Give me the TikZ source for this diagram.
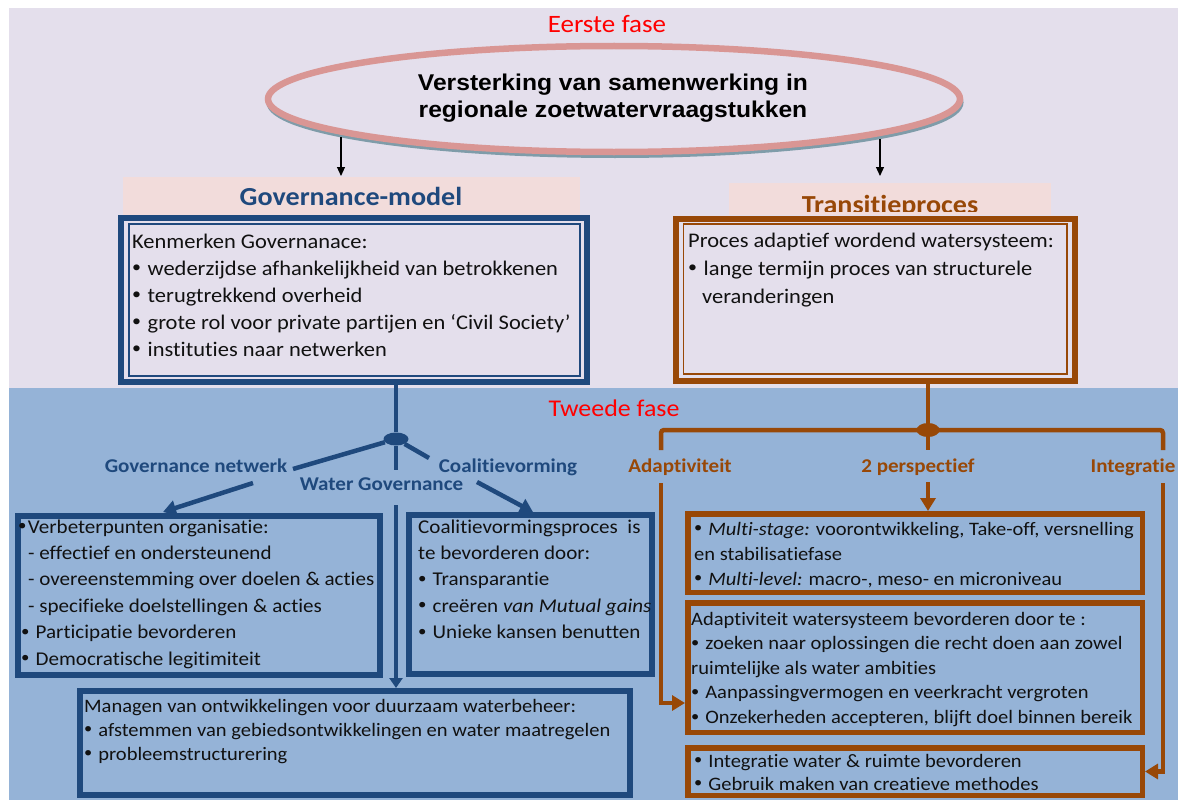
\documentclass[tikz,border=0pt]{standalone}
\usepackage{fontspec}
\setmainfont{Carlito}[FakeStretch=1.08, Ligatures=NoCommon]
\newfontfamily\arialf{Liberation Sans}[FakeStretch=1.08]
\usetikzlibrary{shapes.geometric,arrows.meta}
\definecolor{lav}{HTML}{E4DFEC}
\definecolor{bgblue}{HTML}{95B3D7}
\definecolor{dblue}{HTML}{1F497D}
\definecolor{brn}{HTML}{984807}
\definecolor{pinkfill}{HTML}{F2DCDB}
\definecolor{ellpink}{HTML}{D99694}
\definecolor{shad}{HTML}{7F9CA9}
\definecolor{txtc}{HTML}{111111}
\newcommand\Lx[1]{\hbox{#1}}
\newcommand\bul{\makebox[0.5em][l]{\raisebox{0.12em}{\scalebox{0.8}{•}}}}
\newcommand\bodyfont{\fontsize{20.8}{27}\selectfont}
\newcommand\smallbody{\fontsize{19.5}{25}\selectfont}
\newcommand\smallerbody{\fontsize{19}{25}\selectfont}
\newcommand\labfont{\fontsize{19.5}{22}\selectfont\bfseries}
\begin{document}
\begin{tikzpicture}[x=1pt,y=-1pt,
  bbox/.style={draw=dblue, line width=6pt, inner sep=0pt},
  brbox/.style={draw=brn, line width=5.5pt, inner sep=0pt},
  txt/.style={anchor=base west, inner sep=0pt, text=txtc, font=\bodyfont},
  blab/.style={anchor=base, inner sep=0pt, text=dblue, font=\labfont},
  brlab/.style={anchor=base, inner sep=0pt, text=brn, font=\labfont},
  redlab/.style={anchor=base, inner sep=0pt, text=red, font=\fontsize{25}{28}\selectfont},
  bline/.style={draw=dblue, line width=4.5pt},
  brline/.style={draw=brn, line width=4.5pt},
  btip/.style={-{Triangle[width=15pt,length=13pt]}},
  karrow/.style={draw=black, line width=1.1pt, -{Triangle[width=8pt,length=9pt]}}
]
\useasboundingbox (0,0) rectangle (1178,800);
\fill[white] (0,0) rectangle (1178,800);
\fill[lav] (9,8) rectangle (1178,388);
\fill[bgblue] (9,388) rectangle (1178,800);

% first phase
\node[redlab] (ef) at (607,33) {Eerste fase};
\node[ellipse, draw=shad, line width=5pt, minimum width=692pt, minimum height=106pt, inner sep=0pt] (els) at (615,102.5) {};
\node[ellipse, draw=ellpink, fill=lav, line width=6.5pt, minimum width=692pt, minimum height=106pt, inner sep=0pt] (el) at (614,99) {};
\node[anchor=base, inner sep=0pt, font=\fontsize{22.8}{27}\selectfont\arialf\bfseries] (el1) at (613,90) {Versterking van samenwerking in};
\node[anchor=base, inner sep=0pt, font=\fontsize{22.8}{27}\selectfont\arialf\bfseries] (el2) at (613,117) {regionale zoetwatervraagstukken};

% title labels
\node[fill=pinkfill, minimum width=457pt, minimum height=38pt, inner sep=0pt] (gml) at (351.5,196) {};
\node[anchor=base, inner sep=0pt, text=dblue, font=\fontsize{26}{30}\selectfont\bfseries] (gmt) at (351,205) {Governance-model};
\node[fill=pinkfill, minimum width=322pt, minimum height=32pt, inner sep=0pt] (tpl) at (890,199) {};
\begin{scope}
\clip (729,183) rectangle (1051,211.5);
\node[anchor=base, inner sep=0pt, text=brn, font=\fontsize{26}{30}\selectfont\bfseries] (tpt) at (890,213.5) {Transitieproces};
\end{scope}

% black arrows
\coordinate (ka) at (341,137); \coordinate (kae) at (341,176);
\coordinate (kb) at (880,139); \coordinate (kbe) at (880,176);
\draw[karrow] (ka) -- (kae);
\draw[karrow] (kb) -- (kbe);

% governance box
\node[bbox, fill=lav, minimum width=466pt, minimum height=164pt] (gm) at (354,300) {};
\draw[dblue, line width=1.3pt] (129,224) rectangle (580,376);
\node[txt] (gmx) at (132,248) {\vtop{\Lx{Kenmerken Governanace:}\Lx{\bul\ wederzijdse afhankelijkheid van betrokkenen}\Lx{\bul\ terugtrekkend overheid}\Lx{\bul\ grote rol voor private partijen en ‘Civil Society’}\Lx{\bul\ instituties naar netwerken}}};

% transitie box
\node[draw=brn, line width=6pt, inner sep=0pt, fill=lav, minimum width=399pt, minimum height=162pt] (tp) at (875.5,300) {};
\draw[brn, line width=1.2pt] (683.5,224) rectangle (1067,374);
\node[txt] (tpx) at (688,247) {\vtop{\baselineskip=28pt\Lx{Proces adaptief wordend watersysteem:}\Lx{\bul\ lange termijn proces van structurele}\Lx{\kern14pt veranderingen}}};

% second phase
\node[redlab, font=\fontsize{24}{28}\selectfont] (tf) at (614,416) {Tweede fase};

% lower blue boxes
\node[bbox, minimum width=362pt, minimum height=159pt] (vb) at (199,595.5) {};
\node[txt, font=\smallbody] (vbx) at (18,533) {\vtop{\baselineskip=26.4pt\Lx{\bul Verbeterpunten organisatie:}\Lx{\kern10pt- effectief en ondersteunend}\Lx{\kern10pt- overeenstemming over doelen \& acties}\Lx{\kern10pt- specifieke doelstellingen \& acties}\Lx{\kern3pt\bul\ Participatie bevorderen}\Lx{\kern3pt\bul\ Democratische legitimiteit}}};
\node[bbox, minimum width=243pt, minimum height=159pt] (cv) at (530.5,594.5) {};
\node[txt, font=\smallbody] (cvx) at (418,533) {\vtop{\baselineskip=26.4pt\Lx{Coalitievormingsproces\ \ is}\Lx{te bevorderen door:}\Lx{\bul\ Transparantie}\Lx{\bul\ creëren \textit{van Mutual gains}}\Lx{\bul\ Unieke kansen benutten}}};
\node[bbox, minimum width=550pt, minimum height=104pt] (mg) at (355,743) {};
\node[txt, font=\smallerbody] (mgx) at (84,712) {\vtop{\baselineskip=24pt\Lx{Managen van ontwikkelingen voor duurzaam waterbeheer:}\Lx{\bul\ afstemmen van gebiedsontwikkelingen en water maatregelen}\Lx{\bul\ probleemstructurering}}};

% lower brown boxes
\node[brbox, minimum width=454.5pt, minimum height=78.5pt] (ms) at (915,553) {};
\node[txt, font=\smallerbody] (msx) at (694,535) {\vtop{\baselineskip=25pt\Lx{\bul\ \textit{Multi-stage:} voorontwikkeling, Take-off, versnelling}\Lx{en stabilisatiefase}\Lx{\bul\ \textit{Multi-level:} macro-, meso- en microniveau}}};
\node[brbox, minimum width=454.5pt, minimum height=129.5pt] (ad) at (915,667.5) {};
\node[txt, font=\smallerbody] (adx) at (691,625) {\vtop{\baselineskip=24.6pt\Lx{Adaptiviteit watersysteem bevorderen door te :}\Lx{\bul\ zoeken naar oplossingen die recht doen aan zowel}\Lx{ruimtelijke als water ambities}\Lx{\bul\ Aanpassingvermogen en veerkracht vergroten}\Lx{\bul\ Onzekerheden accepteren, blijft doel binnen bereik}}};
\node[brbox, minimum width=454.5pt, minimum height=47.5pt] (ig) at (915,771.5) {};
\node[txt, font=\smallerbody] (igx) at (694,767) {\vtop{\baselineskip=23pt\Lx{\bul\ Integratie water \& ruimte bevorderen}\Lx{\bul\ Gebruik maken van creatieve methodes}}};

% blue tree
\node[ellipse, fill=dblue, minimum width=25pt, minimum height=13pt, inner sep=0pt] (jb) at (396,439) {};
\draw[bline] (gm.south -| jb) -- (jb);
\coordinate (gnA) at (293,469); \coordinate (gnB) at (253,483); \coordinate (vbT) at (163,512);
\draw[bline] (jb) -- (gnA);
\draw[bline, btip] (gnB) -- (vbT);
\coordinate (cvA) at (429,458); \coordinate (cvB) at (477,482); \coordinate (cvT) at (533,512);
\draw[bline] (jb) -- (cvA);
\draw[bline, btip] (cvB) -- (cvT);
\coordinate (wgA) at (396,470); \coordinate (wgB) at (396,505);
\draw[bline] (jb) -- (wgA);
\draw[bline, -{Triangle[width=13pt,length=10pt]}] (wgB) -- (mg.north -| wgB);
\node[blab] (gn) at (196,472) {Governance netwerk};
\node[blab] (wg) at (381.5,490) {Water Governance};
\node[blab] (cvl) at (508,472) {Coalitievorming};

% brown tree
\node[ellipse, fill=brn, minimum width=23pt, minimum height=14pt, inner sep=0pt] (jr) at (928,430) {};
\draw[brline] (tp.south -| jr) -- (jr);
\coordinate (brL) at (661,450); \coordinate (brR) at (1163,450);
\draw[brline, rounded corners=3pt] (brL) -- (brL |- jr) -- (brR |- jr) -- (brR);
\coordinate (ppA) at (928,450); \coordinate (ppB) at (928,482);
\draw[brline] (jr) -- (ppA);
\draw[brline, btip] (ppB) -- (ms.north -| ppB);
\coordinate (adA) at (661,483); \coordinate (adY) at (685,703);
\draw[brline, btip] (adA) |- (adY);
\coordinate (igA) at (1163,483);
\draw[brline, btip] (igA) |- (ig.east);
\node[brlab] (adl) at (680,472) {Adaptiviteit};
\node[brlab] (ppl) at (918,472) {2 perspectief};
\node[brlab] (igl) at (1133,472) {Integratie};
\end{tikzpicture}
\end{document}
